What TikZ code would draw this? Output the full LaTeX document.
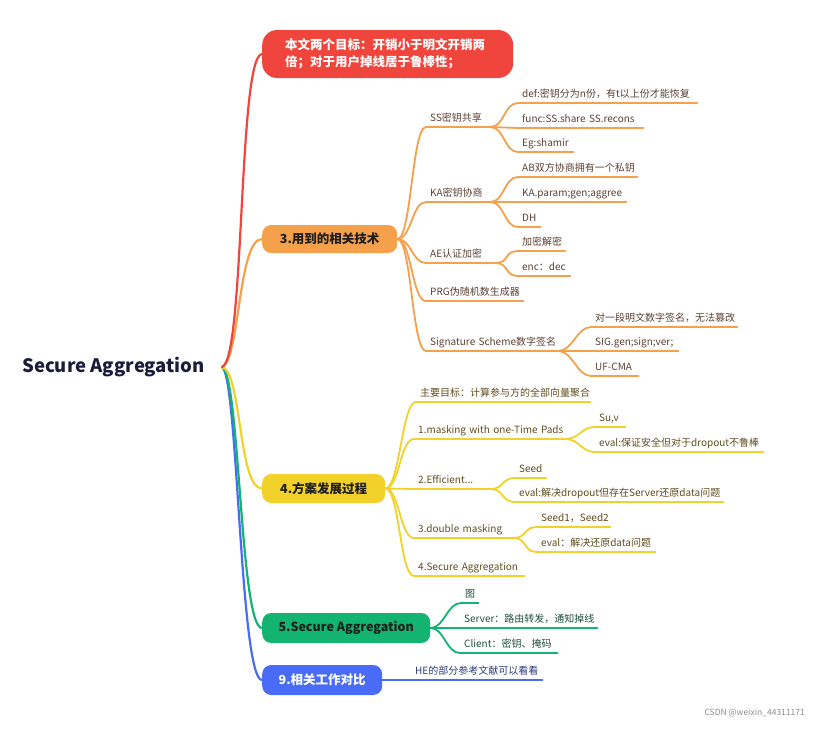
\documentclass[tikz,border=0pt]{standalone}
\usepackage{fontspec}
\setmainfont{Noto Sans CJK SC}
\definecolor{redc}{HTML}{F0453C}
\definecolor{orangec}{HTML}{F5A04B}
\definecolor{yellowc}{HTML}{F2D12A}
\definecolor{greenc}{HTML}{12B470}
\definecolor{bluec}{HTML}{4A6BF6}
\definecolor{rootc}{HTML}{1B1B3A}
\definecolor{darkc}{HTML}{1E1E1E}
\definecolor{otext}{HTML}{5C4033}
\definecolor{ytext}{HTML}{5E4C1C}
\definecolor{gtext}{HTML}{1F4E3D}
\definecolor{btext}{HTML}{2B3A78}
\newcommand\mmleaf[6]{%
  \pgfmathsetmacro\mmtw{#5-#3-4}%
  \node[leaf,#1,text width=\mmtw pt] (#2) at (#3-4,#4) {\mbox{#6}};}
\newcommand\mmlink[3]{\draw[#1] (#2) .. controls +(14,0) and +(-14,0) .. (#3.south west) -- (#3.south east);}
\begin{document}
\begin{tikzpicture}[x=1pt,y=-1pt,
  leaf/.style={anchor=south west, inner xsep=4pt, inner ysep=0pt, text height=7.5pt, text depth=5.5pt, align=left, font=\fontsize{10}{12}\selectfont},
  box/.style={anchor=west, inner sep=0pt, rounded corners=9pt, font=\bfseries\fontsize{12.5}{17}\selectfont},
  trunk/.style={line width=2.2pt, line cap=round},
  twig/.style={line width=1.8pt, line cap=round, line join=round},
  ol/.style={text=otext}, yl/.style={text=ytext}, gl/.style={text=gtext}, bl/.style={text=btext}]
\useasboundingbox (0,0) rectangle (819,728);

% root
\node[font=\bfseries\fontsize{18.5}{20}\selectfont, text=rootc, anchor=east, inner xsep=17pt, inner ysep=2pt] (root) at (222,367) {Secure Aggregation};

% main boxes
\node[box, fill=redc, text=white, minimum width=251pt, minimum height=48pt, rounded corners=15pt, text width=205pt, align=left] (b1) at (262,54) {本文两个目标：开销小于明文开销两\\倍；对于用户掉线居于鲁棒性；};
\node[box, fill=orangec, text=darkc, minimum width=135pt, minimum height=28pt] (b2) at (262,239) {3.用到的相关技术};
\node[box, fill=yellowc, text=darkc, minimum width=123pt, minimum height=29pt] (b3) at (262,488.5) {4.方案发展过程};
\node[box, fill=greenc, text=darkc, minimum width=168pt, minimum height=30pt] (b4) at (262,628) {5.Secure Aggregation};
\node[box, fill=bluec, text=white, minimum width=120pt, minimum height=30pt] (b5) at (262,680) {9.相关工作对比};

% trunks
\draw[trunk, bluec] (root.east) .. controls (238,375) and (240,680) .. (b5.west);
\draw[trunk, greenc] (root.east) .. controls (240,375) and (240,628) .. (b4.west);
\draw[trunk, yellowc] (root.east) .. controls (242,372) and (238,488) .. (b3.west);
\draw[trunk, orangec] (root.east) .. controls (240,360) and (238,239) .. (b2.west);
\draw[trunk, redc] (root.east) .. controls (245,360) and (238,56) .. (b1.west);

% orange branch
\mmleaf{ol}{ss}{430}{127}{490}{SS密钥共享}
\mmleaf{ol}{def}{522}{103}{697}{def:密钥分为n份，有t以上份才能恢复}
\mmleaf{ol}{func}{522}{128}{643}{func:SS.share SS.recons}
\mmleaf{ol}{eg}{522}{152}{573}{Eg:shamir}
\mmleaf{ol}{ka}{430}{202}{490}{KA密钥协商}
\mmleaf{ol}{ab}{522}{177}{637}{AB双方协商拥有一个私钥}
\mmleaf{ol}{kap}{522}{202}{626}{KA.param;gen;aggree}
\mmleaf{ol}{dh}{522}{227}{540}{DH}
\mmleaf{ol}{ae}{430}{263}{495}{AE认证加密}
\mmleaf{ol}{jm}{522}{251}{565}{加密解密}
\mmleaf{ol}{enc}{522}{276}{570}{enc：dec}
\mmleaf{ol}{prg}{430}{301}{523}{PRG伪随机数生成器}
\mmleaf{ol}{sig}{430}{351}{558}{Signature Scheme数字签名}
\mmleaf{ol}{sga}{595}{327}{737}{对一段明文数字签名，无法篡改}
\mmleaf{ol}{sgb}{595}{351}{678}{SIG.gen;sign;ver;}
\mmleaf{ol}{sgc}{595}{376}{638}{UF-CMA}
\foreach \c in {ss,ka,ae,prg,sig}{\mmlink{twig,orangec}{b2.east}{\c}}
\foreach \c in {def,func,eg}{\mmlink{twig,orangec}{ss.south east}{\c}}
\foreach \c in {ab,kap,dh}{\mmlink{twig,orangec}{ka.south east}{\c}}
\foreach \c in {jm,enc}{\mmlink{twig,orangec}{ae.south east}{\c}}
\foreach \c in {sga,sgb,sgc}{\mmlink{twig,orangec}{sig.south east}{\c}}

% yellow branch
\mmleaf{yl}{ya}{420}{402}{590}{主要目标：计算参与方的全部向量聚合}
\mmleaf{yl}{yb}{418}{439}{565}{1.masking with one-Time Pads}
\mmleaf{yl}{yba}{599}{427}{625}{Su,v}
\mmleaf{yl}{ybb}{599}{452}{763}{eval:保证安全但对于dropout不鲁棒}
\mmleaf{yl}{yc}{418}{489}{490}{2.Efficient...}
\mmleaf{yl}{yca}{519}{478}{546}{Seed}
\mmleaf{yl}{ycb}{519}{502}{723}{eval:解决dropout但存在Server还原data问题}
\mmleaf{yl}{yd}{418}{538}{513}{3.double masking}
\mmleaf{yl}{yda}{541}{527}{610}{Seed1，Seed2}
\mmleaf{yl}{ydb}{541}{552}{655}{eval：解决还原data问题}
\mmleaf{yl}{ye}{418}{576}{524}{4.Secure Aggregation}
\foreach \c in {ya,yb,yc,yd,ye}{\mmlink{twig,yellowc}{b3.east}{\c}}
\foreach \c in {yba,ybb}{\mmlink{twig,yellowc}{yb.south east}{\c}}
\foreach \c in {yca,ycb}{\mmlink{twig,yellowc}{yc.south east}{\c}}
\foreach \c in {yda,ydb}{\mmlink{twig,yellowc}{yd.south east}{\c}}

% green branch
\mmleaf{gl}{ga}{465}{603}{478}{图}
\mmleaf{gl}{gb}{464}{628}{597}{Server：路由转发，通知掉线}
\mmleaf{gl}{gc}{464}{653}{557}{Client：密钥、掩码}
\foreach \c in {ga,gb,gc}{\mmlink{twig,greenc}{b4.east}{\c}}

% blue branch
\mmleaf{bl}{ha}{415}{680}{542}{HE的部分参考文献可以看看}
\mmlink{twig,bluec}{b5.east}{ha}

% watermark
\node[anchor=east, inner sep=0pt, text=black!45, font=\fontsize{8.5}{10}\selectfont] (wm) at (805,713) {CSDN @weixin\_44311171};
\end{tikzpicture}
\end{document}
